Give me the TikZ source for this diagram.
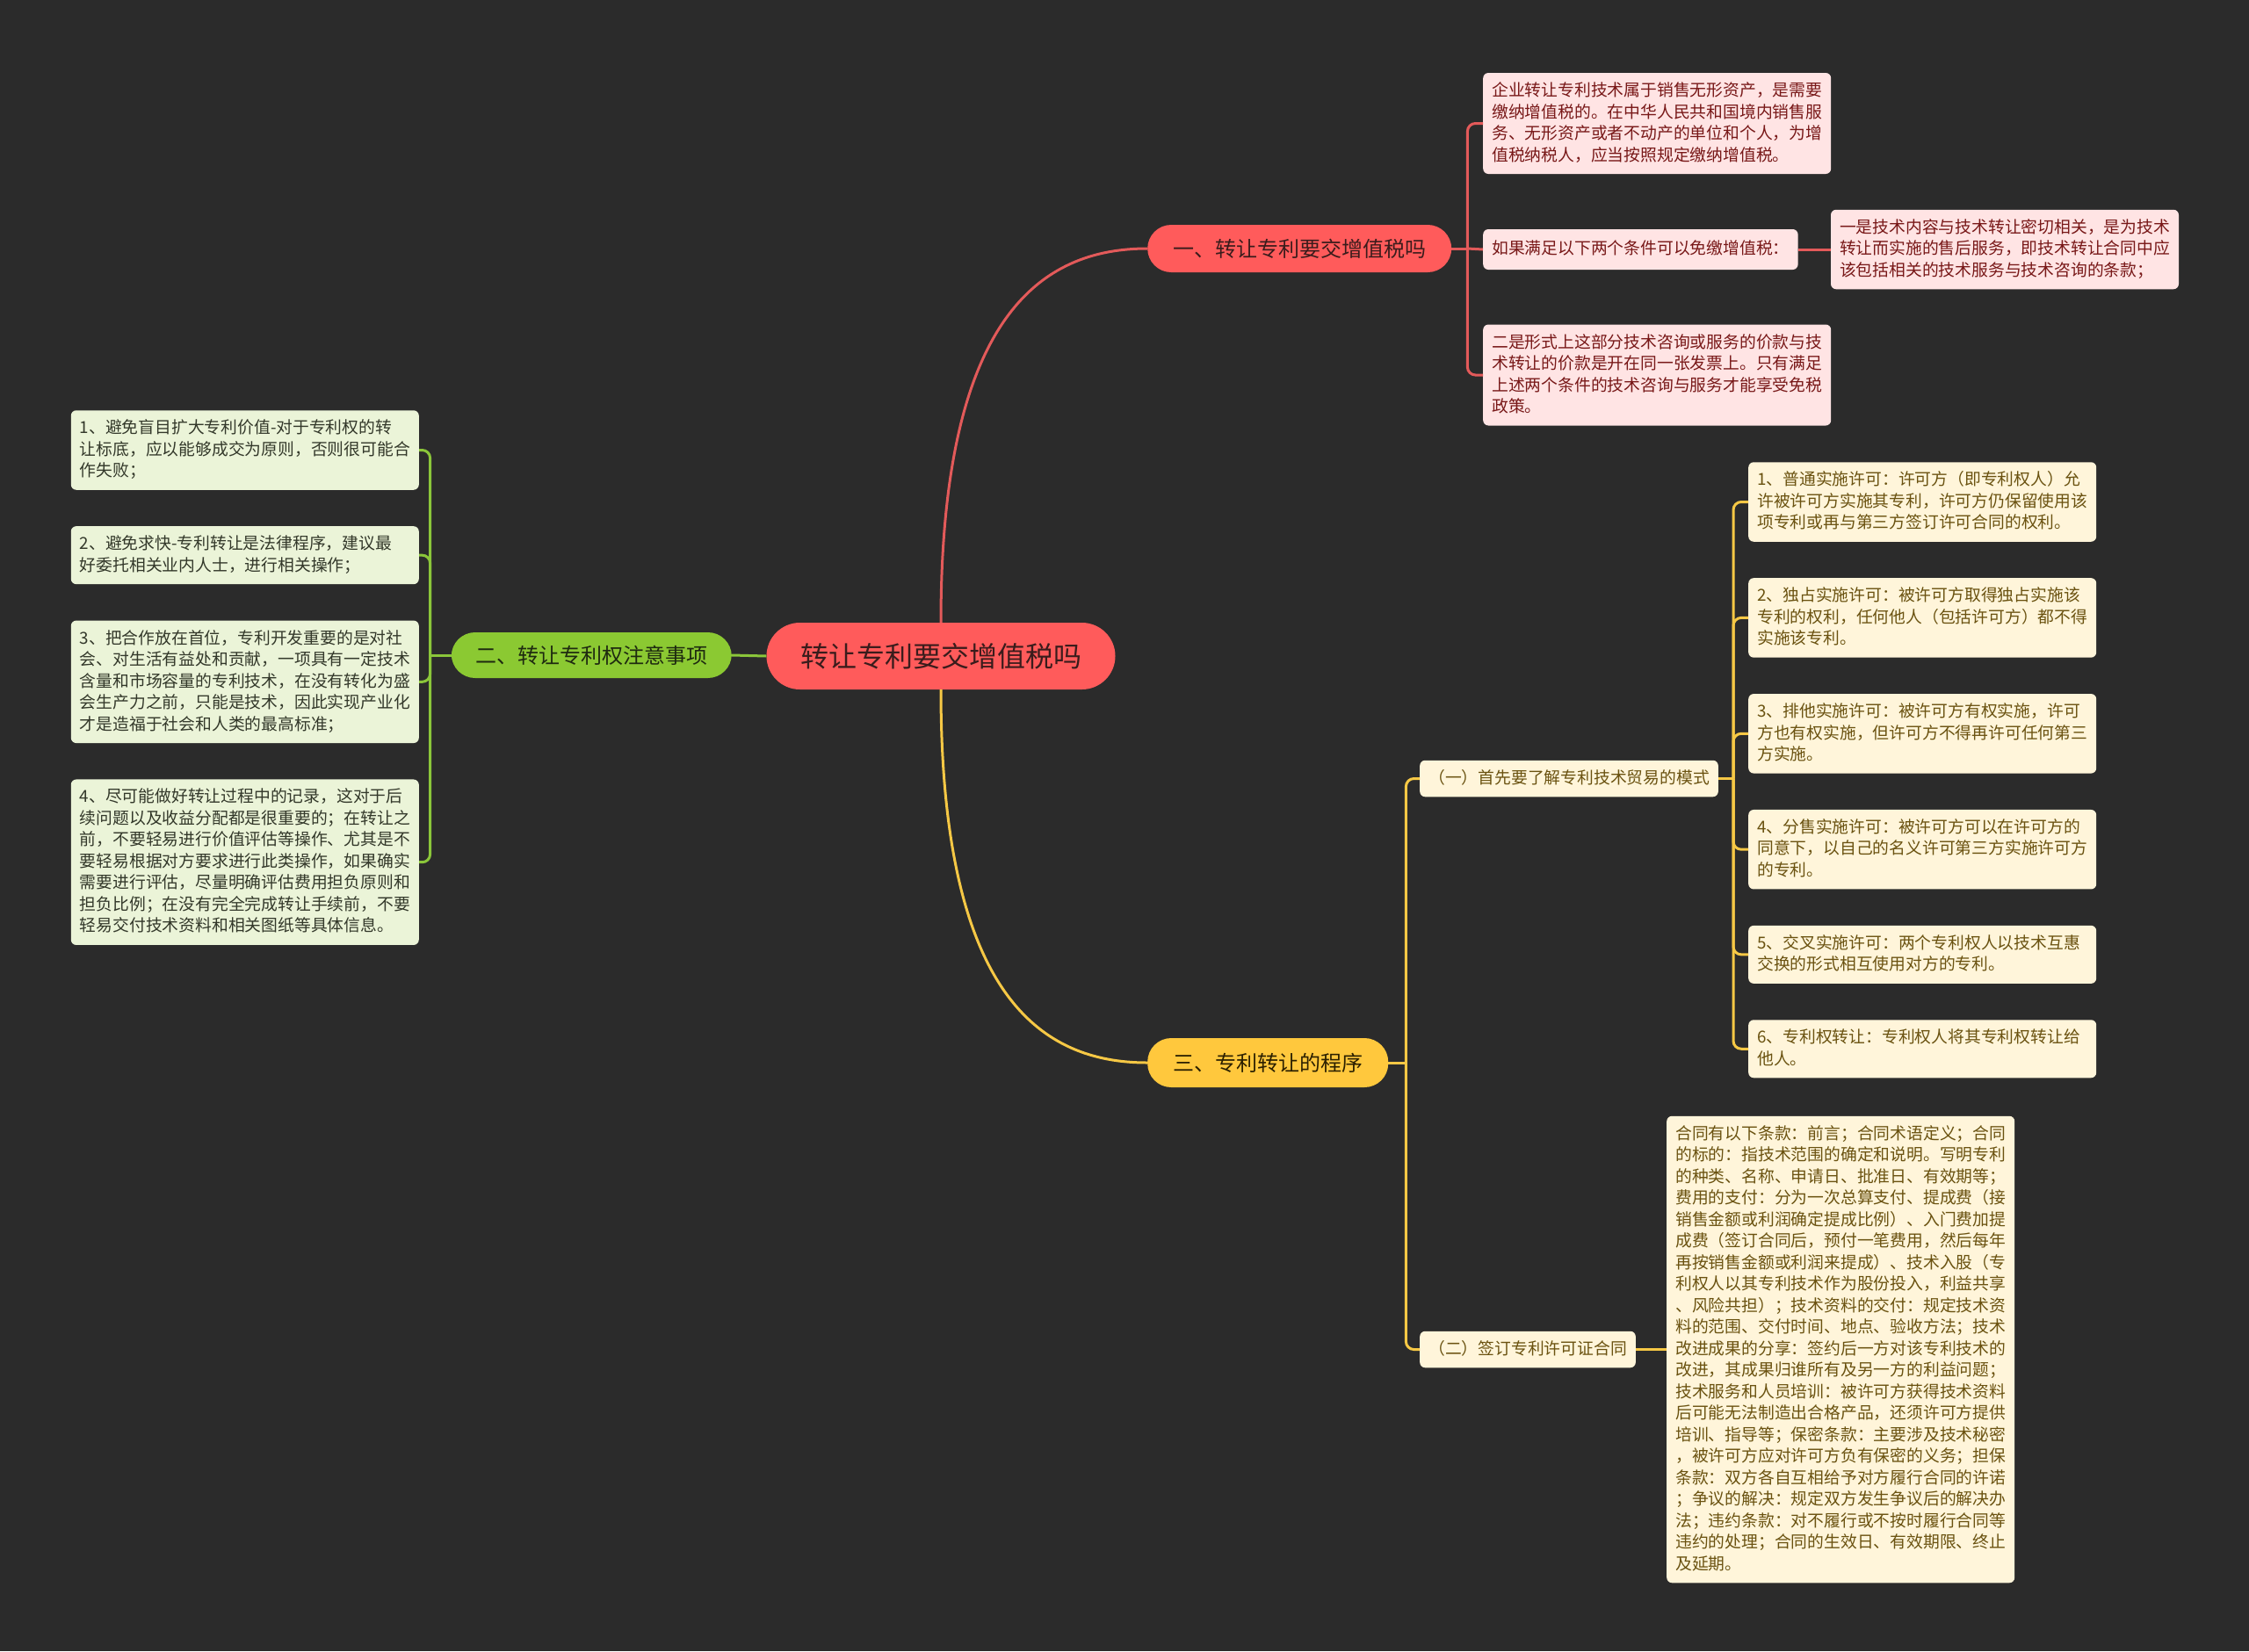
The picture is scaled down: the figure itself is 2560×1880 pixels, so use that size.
\documentclass[tikz,border=0pt]{standalone}
\usepackage{fontspec}
\setmainfont{Noto Sans CJK SC}
\usetikzlibrary{positioning}
\definecolor{bgdark}{HTML}{2B2B2B}
\definecolor{topicred}{HTML}{FF5B5B}
\definecolor{topicink}{HTML}{3A1C1C}
\definecolor{redline}{HTML}{E35A5A}
\definecolor{redpale}{HTML}{FFE4E4}
\definecolor{redink}{HTML}{781818}
\definecolor{greentop}{HTML}{8BC932}
\definecolor{greenink}{HTML}{1E2A10}
\definecolor{greenline}{HTML}{8BC63A}
\definecolor{greenpale}{HTML}{EBF4D8}
\definecolor{greentext}{HTML}{33382A}
\definecolor{yellowtop}{HTML}{FFC83D}
\definecolor{yellowink}{HTML}{2B2000}
\definecolor{yellowline}{HTML}{F6C845}
\definecolor{yellowpale}{HTML}{FFF5DA}
\definecolor{yellowtext}{HTML}{6A5210}
\newcommand\linestrut{\rule[-6.5pt]{0pt}{24.5pt}}
\begin{document}
\begin{tikzpicture}[x=1pt, y=-1pt, node distance=41pt,
  topic/.style={fill=topicred, text=topicink, rounded corners=38pt, minimum width=397pt, minimum height=76pt, font=\fontsize{32}{38}\selectfont},
  branch/.style={rounded corners=27pt, minimum height=54pt, font=\fontsize{24}{30}\selectfont},
  leaf/.style={rounded corners=6pt, inner xsep=10pt, inner ysep=8.5pt, align=left, font=\fontsize{18.8}{24.5}\selectfont, execute at begin node=\linestrut, execute at end node=\linestrut},
  wide/.style={text width=376pt},
  redleaf/.style={leaf, fill=redpale, text=redink},
  greenleaf/.style={leaf, wide, fill=greenpale, text=greentext, anchor=east},
  yellowleaf/.style={leaf, fill=yellowpale, text=yellowtext},
  wire/.style={line width=3pt, rounded corners=9pt}]

\fill[bgdark] (0,0) rectangle (2560,1880);
\useasboundingbox (0,0) rectangle (2560,1880);

\node[topic] (root) at (1071,747) {转让专利要交增值税吗};

% 一
\node[branch, fill=topicred, text=topicink, minimum width=346pt, anchor=west] (b1) at (1306,283) {一、转让专利要交增值税吗};
\node[redleaf, wide, anchor=west] (r1) at (1688,140.5) {企业转让专利技术属于销售无形资产，是需要\\缴纳增值税的。在中华人民共和国境内销售服\\务、无形资产或者不动产的单位和个人，为增\\值税纳税人，应当按照规定缴纳增值税。};
\node[redleaf, anchor=west, minimum height=46pt] (r2) at (1688,284) {如果满足以下两个条件可以免缴增值税：};
\node[redleaf, wide, anchor=west] (r2a) [right=37pt of r2] {一是技术内容与技术转让密切相关，是为技术\\转让而实施的售后服务，即技术转让合同中应\\该包括相关的技术服务与技术咨询的条款；};
\node[redleaf, wide, anchor=west] (r3) at (1688,427) {二是形式上这部分技术咨询或服务的价款与技\\术转让的价款是开在同一张发票上。只有满足\\上述两个条件的技术咨询与服务才能享受免税\\政策。};

% 二
\node[branch, fill=greentop, text=greenink, minimum width=319pt, minimum height=52pt, anchor=east] (b2) at (833,746) {二、转让专利权注意事项};
\node[greenleaf] (g1) at (477,512.5) {1、避免盲目扩大专利价值-对于专利权的转\\让标底，应以能够成交为原则，否则很可能合\\作失败；};
\node[greenleaf] (g2) [below=of g1.south east, anchor=north east] {2、避免求快-专利转让是法律程序，建议最\\好委托相关业内人士，进行相关操作；};
\node[greenleaf] (g3) [below=of g2.south east, anchor=north east] {3、把合作放在首位，专利开发重要的是对社\\会、对生活有益处和贡献，一项具有一定技术\\含量和市场容量的专利技术，在没有转化为盛\\会生产力之前，只能是技术，因此实现产业化\\才是造福于社会和人类的最高标准；};
\node[greenleaf] (g4) [below=of g3.south east, anchor=north east] {4、尽可能做好转让过程中的记录，这对于后\\续问题以及收益分配都是很重要的；在转让之\\前，不要轻易进行价值评估等操作、尤其是不\\要轻易根据对方要求进行此类操作，如果确实\\需要进行评估，尽量明确评估费用担负原则和\\担负比例；在没有完全完成转让手续前，不要\\轻易交付技术资料和相关图纸等具体信息。};

% 三
\node[branch, fill=yellowtop, text=yellowink, minimum width=274pt, minimum height=56pt, anchor=west] (b3) at (1306,1210) {三、专利转让的程序};
\node[yellowleaf, anchor=west] (y1) at (1616,886.5) {（一）首先要了解专利技术贸易的模式};
\node[yellowleaf, anchor=west] (y2) at (1616,1536.5) {（二）签订专利许可证合同};
\node[yellowleaf, wide, anchor=west] (c1) at (1990,571.5) {1、普通实施许可：许可方（即专利权人）允\\许被许可方实施其专利，许可方仍保留使用该\\项专利或再与第三方签订许可合同的权利。};
\node[yellowleaf, wide] (c2) [below=of c1.south west, anchor=north west] {2、独占实施许可：被许可方取得独占实施该\\专利的权利，任何他人（包括许可方）都不得\\实施该专利。};
\node[yellowleaf, wide] (c3) [below=of c2.south west, anchor=north west] {3、排他实施许可：被许可方有权实施，许可\\方也有权实施，但许可方不得再许可任何第三\\方实施。};
\node[yellowleaf, wide] (c4) [below=of c3.south west, anchor=north west] {4、分售实施许可：被许可方可以在许可方的\\同意下，以自己的名义许可第三方实施许可方\\的专利。};
\node[yellowleaf, wide] (c5) [below=of c4.south west, anchor=north west] {5、交叉实施许可：两个专利权人以技术互惠\\交换的形式相互使用对方的专利。};
\node[yellowleaf, wide] (c6) [below=of c5.south west, anchor=north west] {6、专利权转让：专利权人将其专利权转让给\\他人。};
\node[yellowleaf, wide, anchor=west] (deal) [right=35pt of y2] {合同有以下条款：前言；合同术语定义；合同\\的标的：指技术范围的确定和说明。写明专利\\的种类、名称、申请日、批准日、有效期等；\\费用的支付：分为一次总算支付、提成费（接\\销售金额或利润确定提成比例）、入门费加提\\成费（签订合同后，预付一笔费用，然后每年\\再按销售金额或利润来提成）、技术入股（专\\利权人以其专利技术作为股份投入，利益共享\\、风险共担）；技术资料的交付：规定技术资\\料的范围、交付时间、地点、验收方法；技术\\改进成果的分享：签约后一方对该专利技术的\\改进，其成果归谁所有及另一方的利益问题；\\技术服务和人员培训：被许可方获得技术资料\\后可能无法制造出合格产品，还须许可方提供\\培训、指导等；保密条款：主要涉及技术秘密\\，被许可方应对许可方负有保密的义务；担保\\条款：双方各自互相给予对方履行合同的许诺\\；争议的解决：规定双方发生争议后的解决办\\法；违约条款：对不履行或不按时履行合同等\\违约的处理；合同的生效日、有效期限、终止\\及延期。};

% connectors
\draw[wire, redline] (root.north) .. controls +(0,-350) and +(-120,0) .. (b1.west);
\draw[wire, greenline] (root.west) -- (b2.east);
\draw[wire, yellowline] (root.south) .. controls +(0,350) and +(-120,0) .. (b3.west);

\coordinate (s1) at ([xshift=18pt]b1.east);
\draw[wire, redline] (b1.east) -- (s1);
\draw[wire, redline] (s1) |- (r1.west);
\draw[wire, redline] (s1) -- (r2.west);
\draw[wire, redline] (s1) |- (r3.west);
\draw[wire, redline] (r2.east) -- (r2a.west);

\coordinate (s2) at ([xshift=-24pt]b2.west);
\draw[wire, greenline] (b2.west) -- (s2);
\draw[wire, greenline] (s2) |- (g1.east);
\draw[wire, greenline] (s2) |- (g2.east);
\draw[wire, greenline] (s2) |- (g3.east);
\draw[wire, greenline] (s2) |- (g4.east);

\coordinate (s3) at ([xshift=20pt]b3.east);
\draw[wire, yellowline] (b3.east) -- (s3);
\draw[wire, yellowline] (s3) |- (y1.west);
\draw[wire, yellowline] (s3) |- (y2.west);

\coordinate (s4) at ([xshift=17pt]y1.east);
\draw[wire, yellowline] (y1.east) -- (s4);
\draw[wire, yellowline] (s4) |- (c1.west);
\draw[wire, yellowline] (s4) |- (c2.west);
\draw[wire, yellowline] (s4) |- (c3.west);
\draw[wire, yellowline] (s4) |- (c4.west);
\draw[wire, yellowline] (s4) |- (c5.west);
\draw[wire, yellowline] (s4) |- (c6.west);
\draw[wire, yellowline] (y2.east) -- (deal.west);
\end{tikzpicture}
\end{document}
